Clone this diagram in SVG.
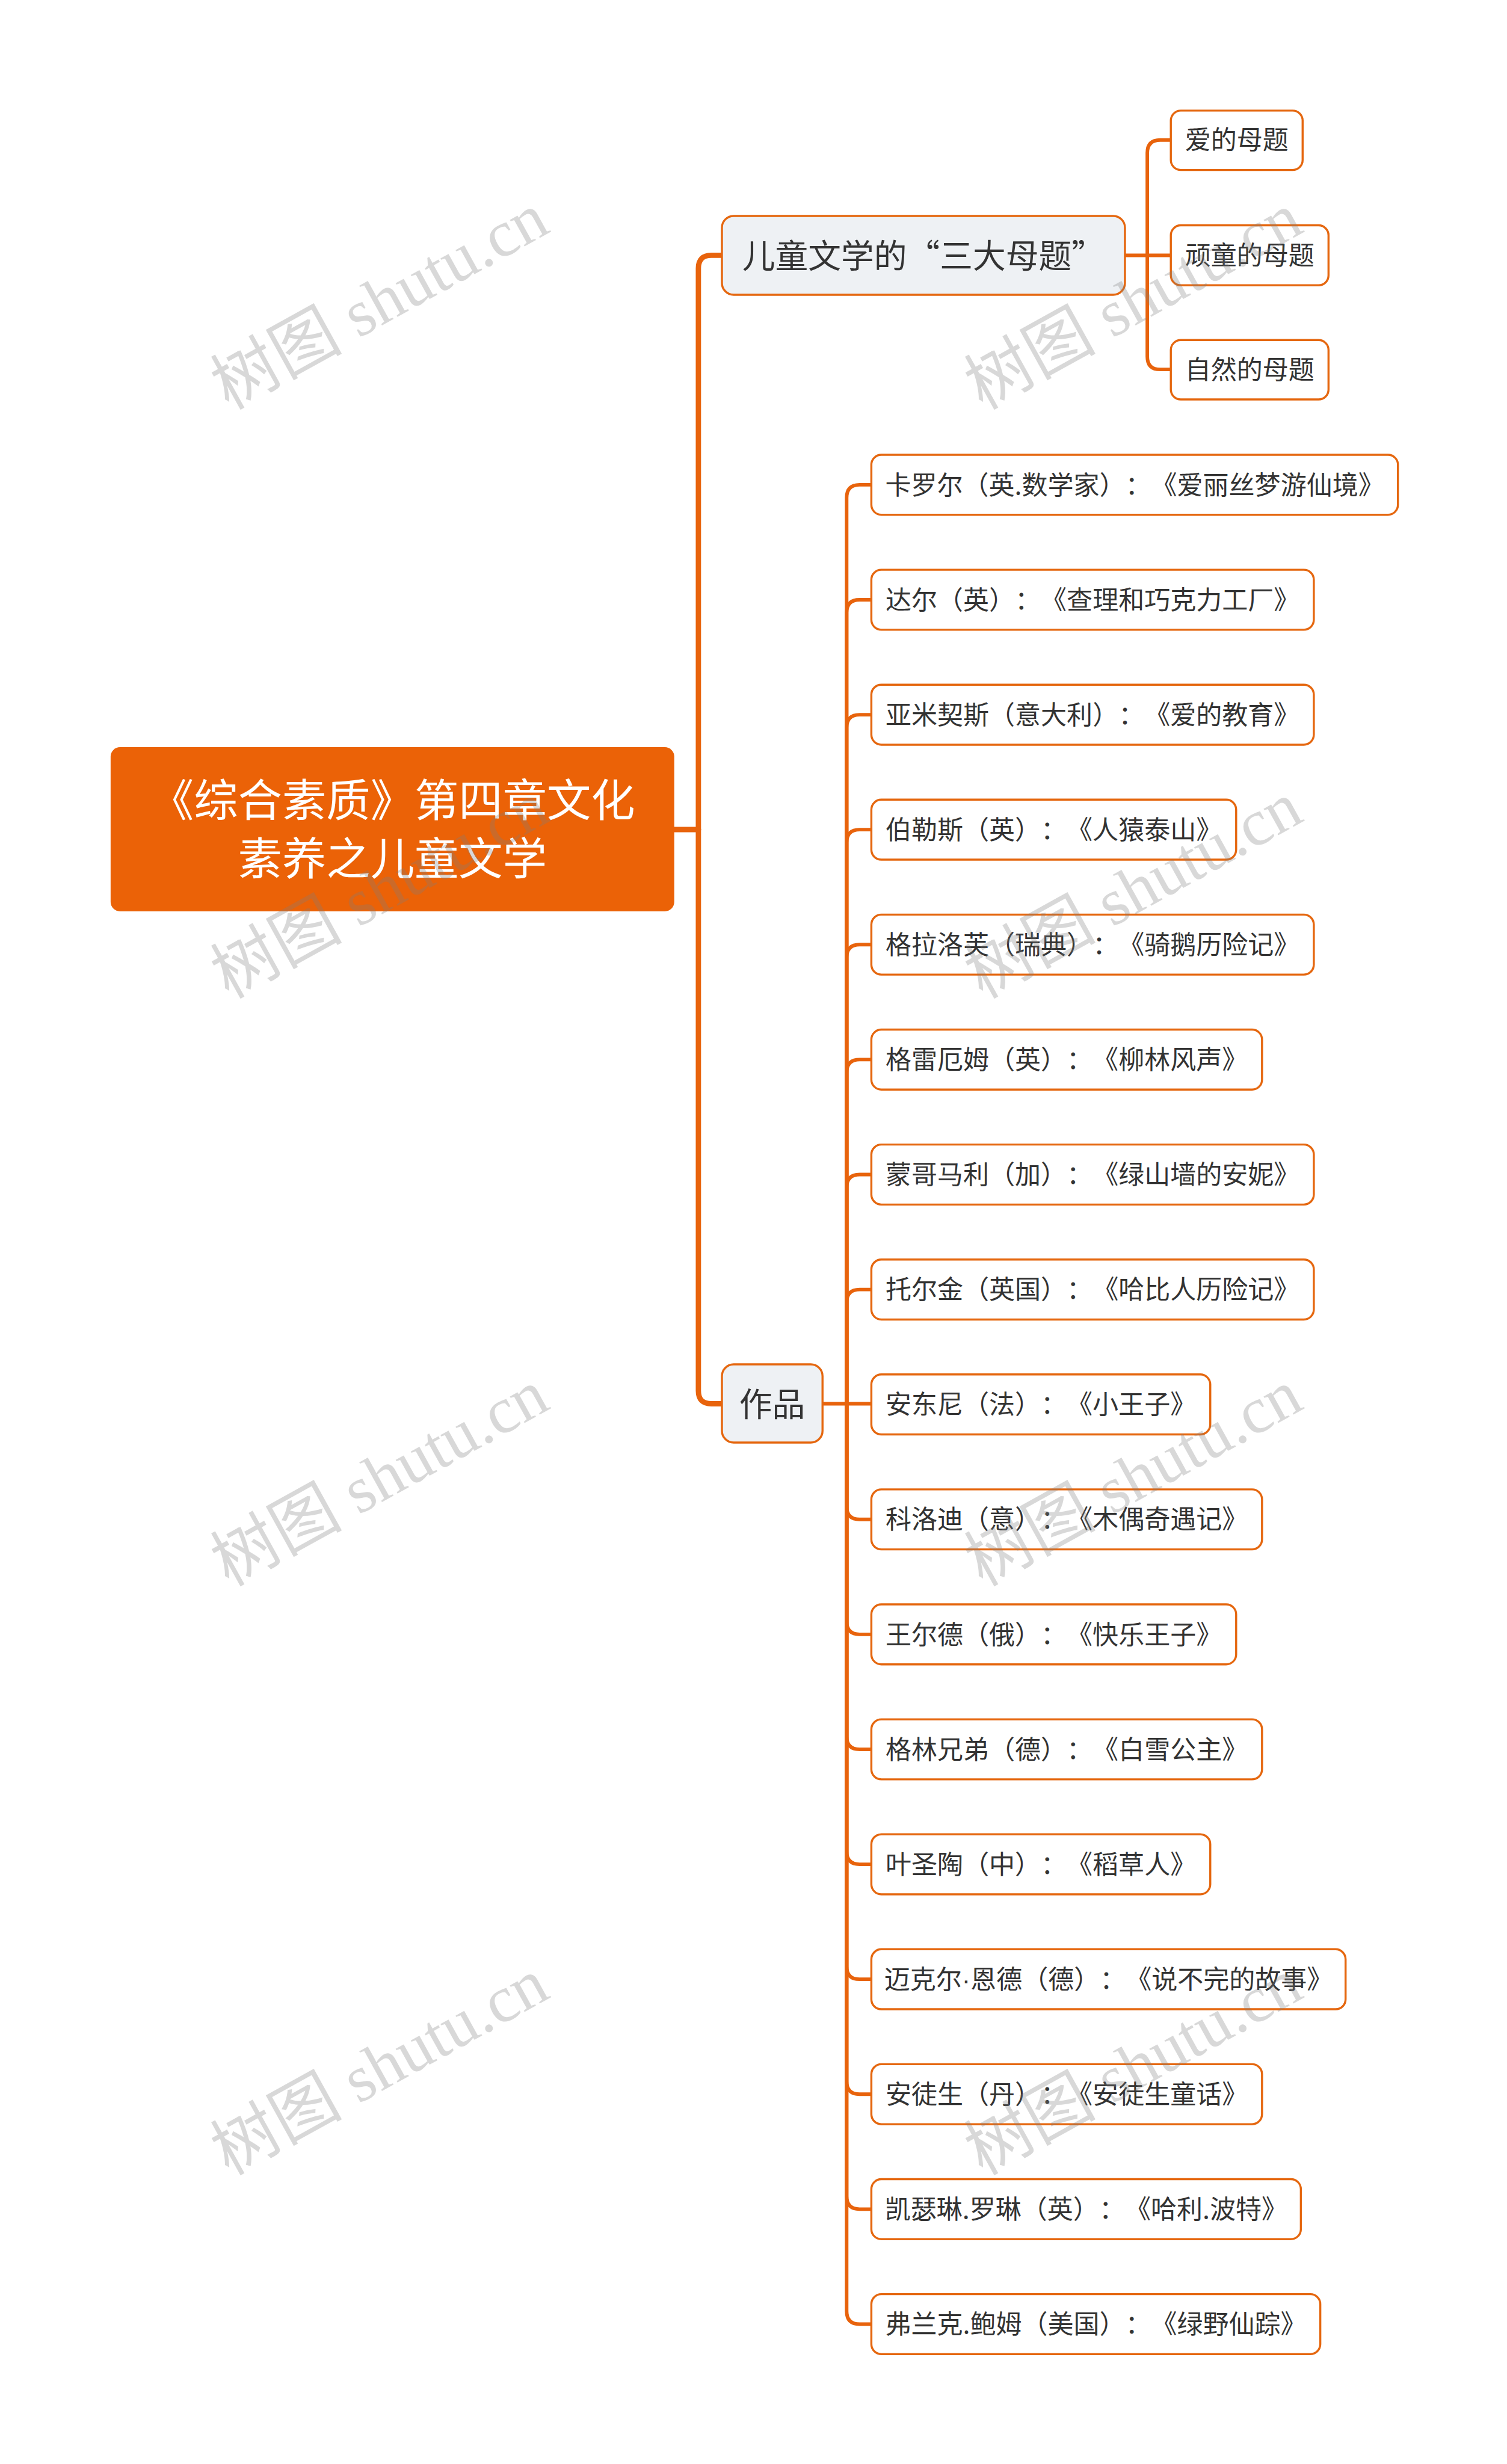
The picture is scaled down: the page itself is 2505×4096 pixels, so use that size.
<svg xmlns="http://www.w3.org/2000/svg" width="2505" height="4096" viewBox="0 0 2505 4096">
<style>
.ln1{fill:none;stroke:#E8630C;stroke-width:9;stroke-linecap:round;stroke-linejoin:round}
.ln2{fill:none;stroke:#E8630C;stroke-width:6;stroke-linecap:round;stroke-linejoin:round}
.root{fill:#EB6207}
.sub{fill:#EEF1F4;stroke:#E5670F;stroke-width:3.5}
.leaf{fill:#FFFFFF;stroke:#E5670F;stroke-width:3.5}
.t{font-family:"Noto Sans CJK SC","Liberation Sans",sans-serif;fill:#333333;text-anchor:middle;text-spacing-trim:space-all}
.tr{font-family:"Noto Sans CJK SC","Liberation Sans",sans-serif;fill:#FFFFFF;text-anchor:middle;font-size:75px;text-spacing-trim:space-all}
.t44{font-size:44px}
.t56{font-size:56px}
.dot{font-family:"Liberation Sans",sans-serif}
.wm{font-family:"Liberation Serif","Noto Sans CJK SC",serif;font-size:112px;fill:#7F7F7F;fill-opacity:0.3;text-anchor:middle}
</style>
<rect x="0" y="0" width="2505" height="4096" fill="#FFFFFF"/>
<g transform="scale(0.978)">
<g id="connectors">
<path class="ln1" d="M1146,1410 H1187"/>
<path class="ln1" d="M1187,1410 V456 Q1187,434 1209,434 H1227"/>
<path class="ln1" d="M1187,1410 V2364 Q1187,2386 1209,2386 H1227"/>
<path class="ln2" d="M1912,434 H1990"/>
<path class="ln2" d="M1950,434 V260 Q1950,238 1972,238 H1990"/>
<path class="ln2" d="M1950,434 V606 Q1950,628 1972,628 H1990"/>
<path class="ln2" d="M1398,2386 H1481"/>
<path class="ln2" d="M1439,2386 V846 Q1439,824 1461,824 H1481"/>
<path class="ln2" d="M1439,2386 V1041.4 Q1439,1019.4 1461,1019.4 H1481"/>
<path class="ln2" d="M1439,2386 V1236.8 Q1439,1214.8 1461,1214.8 H1481"/>
<path class="ln2" d="M1439,2386 V1432.2 Q1439,1410.2 1461,1410.2 H1481"/>
<path class="ln2" d="M1439,2386 V1627.6 Q1439,1605.6 1461,1605.6 H1481"/>
<path class="ln2" d="M1439,2386 V1823 Q1439,1801 1461,1801 H1481"/>
<path class="ln2" d="M1439,2386 V2018.4 Q1439,1996.4 1461,1996.4 H1481"/>
<path class="ln2" d="M1439,2386 V2213.8 Q1439,2191.8 1461,2191.8 H1481"/>
<path class="ln2" d="M1439,2386 V2560.6 Q1439,2582.6 1461,2582.6 H1481"/>
<path class="ln2" d="M1439,2386 V2756 Q1439,2778 1461,2778 H1481"/>
<path class="ln2" d="M1439,2386 V2951.4 Q1439,2973.4 1461,2973.4 H1481"/>
<path class="ln2" d="M1439,2386 V3146.8 Q1439,3168.8 1461,3168.8 H1481"/>
<path class="ln2" d="M1439,2386 V3342.2 Q1439,3364.2 1461,3364.2 H1481"/>
<path class="ln2" d="M1439,2386 V3537.6 Q1439,3559.6 1461,3559.6 H1481"/>
<path class="ln2" d="M1439,2386 V3733 Q1439,3755 1461,3755 H1481"/>
<path class="ln2" d="M1439,2386 V3928.4 Q1439,3950.4 1461,3950.4 H1481"/>
</g>
<g id="root">
<rect class="root" x="188" y="1270" width="958" height="279" rx="16"/>
<text class="tr" x="667" y="1388">《综合素质》第四章文化</text>
<text class="tr" x="667" y="1487">素养之儿童文学</text>
</g>
<g id="theme">
<rect class="sub" x="1227" y="367" width="685" height="134" rx="20"/>
<text class="t t56" x="1569.5" y="455">儿童文学的“三大母题”</text>
</g>
<g id="theme-love">
<rect class="leaf" x="1990" y="188" width="224" height="101" rx="17"/>
<text class="t t44" x="2102" y="254">爱的母题</text>
</g>
<g id="theme-naughty">
<rect class="leaf" x="1990" y="383" width="268" height="102" rx="17"/>
<text class="t t44" x="2124" y="450">顽童的母题</text>
</g>
<g id="theme-nature">
<rect class="leaf" x="1990" y="578" width="268" height="101" rx="17"/>
<text class="t t44" x="2124" y="644">自然的母题</text>
</g>
<g id="works">
<rect class="sub" x="1227" y="2319" width="171" height="133" rx="20"/>
<text class="t t56" x="1312.5" y="2407">作品</text>
</g>
<g id="w1"><rect class="leaf" x="1481" y="773" width="895" height="102" rx="17"/><text class="t t44" x="1928.5" y="840">卡罗尔（英.数学家）：《爱丽丝梦游仙境》</text></g>
<g id="w2"><rect class="leaf" x="1481" y="968.4" width="752" height="102" rx="17"/><text class="t t44" x="1857" y="1035.4">达尔（英）：《查理和巧克力工厂》</text></g>
<g id="w3"><rect class="leaf" x="1481" y="1163.8" width="752" height="102" rx="17"/><text class="t t44" x="1857" y="1230.8">亚米契斯（意大利）：《爱的教育》</text></g>
<g id="w4"><rect class="leaf" x="1481" y="1359.2" width="620" height="102" rx="17"/><text class="t t44" x="1791" y="1426.2">伯勒斯（英）：《人猿泰山》</text></g>
<g id="w5"><rect class="leaf" x="1481" y="1554.6" width="752" height="102" rx="17"/><text class="t t44" x="1857" y="1621.6">格拉洛芙（瑞典）：《骑鹅历险记》</text></g>
<g id="w6"><rect class="leaf" x="1481" y="1750" width="664" height="102" rx="17"/><text class="t t44" x="1813" y="1817">格雷厄姆（英）：《柳林风声》</text></g>
<g id="w7"><rect class="leaf" x="1481" y="1945.4" width="752" height="102" rx="17"/><text class="t t44" x="1857" y="2012.4">蒙哥马利（加）：《绿山墙的安妮》</text></g>
<g id="w8"><rect class="leaf" x="1481" y="2140.8" width="752" height="102" rx="17"/><text class="t t44" x="1857" y="2207.8">托尔金（英国）：《哈比人历险记》</text></g>
<g id="w9"><rect class="leaf" x="1481" y="2336.2" width="576" height="102" rx="17"/><text class="t t44" x="1769" y="2403.2">安东尼（法）：《小王子》</text></g>
<g id="w10"><rect class="leaf" x="1481" y="2531.6" width="664" height="102" rx="17"/><text class="t t44" x="1813" y="2598.6">科洛迪（意）：《木偶奇遇记》</text></g>
<g id="w11"><rect class="leaf" x="1481" y="2727" width="620" height="102" rx="17"/><text class="t t44" x="1791" y="2794">王尔德（俄）：《快乐王子》</text></g>
<g id="w12"><rect class="leaf" x="1481" y="2922.4" width="664" height="102" rx="17"/><text class="t t44" x="1813" y="2989.4">格林兄弟（德）：《白雪公主》</text></g>
<g id="w13"><rect class="leaf" x="1481" y="3117.8" width="576" height="102" rx="17"/><text class="t t44" x="1769" y="3184.8">叶圣陶（中）：《稻草人》</text></g>
<g id="w14"><rect class="leaf" x="1481" y="3313.2" width="806" height="102" rx="17"/><text class="t t44" x="1884" y="3380.2">迈克尔<tspan class="dot">·</tspan>恩德（德）：《说不完的故事》</text></g>
<g id="w15"><rect class="leaf" x="1481" y="3508.6" width="664" height="102" rx="17"/><text class="t t44" x="1813" y="3575.6">安徒生（丹）：《安徒生童话》</text></g>
<g id="w16"><rect class="leaf" x="1481" y="3704" width="730" height="102" rx="17"/><text class="t t44" x="1846" y="3771">凯瑟琳.罗琳（英）：《哈利.波特》</text></g>
<g id="w17"><rect class="leaf" x="1481" y="3899.4" width="763" height="102" rx="17"/><text class="t t44" x="1862.5" y="3966.4">弗兰克.鲍姆（美国）：《绿野仙踪》</text></g>
<g id="watermarks">
<text class="wm" transform="translate(645,512) rotate(-29)" x="0" y="38">树图 shutu.cn</text>
<text class="wm" transform="translate(1926,512) rotate(-29)" x="0" y="38">树图 shutu.cn</text>
<text class="wm" transform="translate(645,1513) rotate(-29)" x="0" y="38">树图 shutu.cn</text>
<text class="wm" transform="translate(1926,1513) rotate(-29)" x="0" y="38">树图 shutu.cn</text>
<text class="wm" transform="translate(645,2512) rotate(-29)" x="0" y="38">树图 shutu.cn</text>
<text class="wm" transform="translate(1926,2512) rotate(-29)" x="0" y="38">树图 shutu.cn</text>
<text class="wm" transform="translate(645,3513) rotate(-29)" x="0" y="38">树图 shutu.cn</text>
<text class="wm" transform="translate(1926,3513) rotate(-29)" x="0" y="38">树图 shutu.cn</text>
</g>
</g>
</svg>
